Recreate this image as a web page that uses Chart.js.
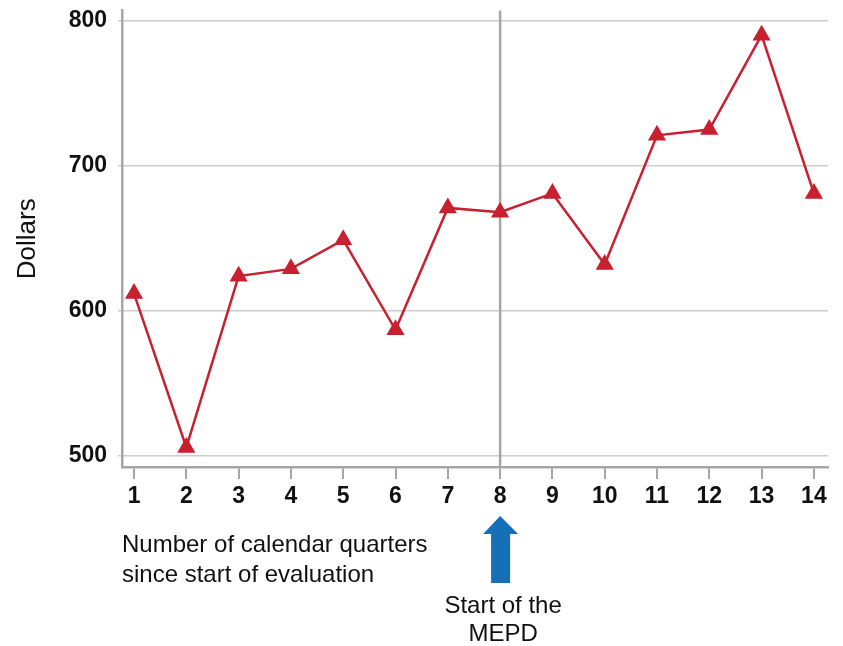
<!DOCTYPE html>
<html>
<head>
<meta charset="utf-8">
<script src="https://cdn.jsdelivr.net/npm/chart.js@4"></script>
<style>
  html, body { margin: 0; padding: 0; background: #fff; }
  #wrap { width: 843px; height: 646px; }
</style>
</head>
<body>
<div id="wrap"><canvas id="myChart" width="843" height="646"></canvas></div>
<script>
const quarters = [1, 2, 3, 4, 5, 6, 7, 8, 9, 10, 11, 12, 13, 14];
const dollars = [612, 506, 624, 629, 649, 587, 671, 668, 681, 632, 721, 725, 790, 681];
const yTicks = [500, 600, 700, 800];
const mepdStart = 8;
const xTitleLines = ["Number of calendar quarters", "since start of evaluation"];
const mepdLines = ["Start of the", "MEPD"];

const font = "'Liberation Sans', Arial, sans-serif";

// vertical marker line + arrow and notes under the axis
const extras = {
  id: "extras",
  beforeDatasetsDraw(chart) {
    const { ctx, chartArea, scales } = chart;
    const x = scales.x.getPixelForValue(mepdStart);
    ctx.save();
    ctx.strokeStyle = "#a6a6a6";
    ctx.lineWidth = 2.5;
    ctx.beginPath();
    ctx.moveTo(x, chartArea.top);
    ctx.lineTo(x, chartArea.bottom);
    ctx.stroke();
    ctx.restore();
  },
  afterDraw(chart) {
    const { ctx, scales } = chart;
    const x = scales.x.getPixelForValue(mepdStart);
    ctx.save();
    // arrow
    ctx.fillStyle = "#1570b8";
    ctx.beginPath();
    ctx.moveTo(x, 516);
    ctx.lineTo(x + 18, 534);
    ctx.lineTo(x + 10, 534);
    ctx.lineTo(x + 10, 583);
    ctx.lineTo(x - 9, 583);
    ctx.lineTo(x - 9, 534);
    ctx.lineTo(x - 17, 534);
    ctx.closePath();
    ctx.fill();

    ctx.fillStyle = "#111";
    ctx.font = "24px " + font;
    ctx.textBaseline = "middle";
    ctx.textAlign = "left";
    ctx.fillText(xTitleLines[0], 122, 545);
    ctx.fillText(xTitleLines[1], 122, 575);
    ctx.textAlign = "center";
    ctx.fillText(mepdLines[0], x + 3, 606);
    ctx.fillText(mepdLines[1], x + 3, 634);
    ctx.restore();
  },
};

const ctx = document.getElementById("myChart").getContext("2d");
new Chart(ctx, {
  type: "line",
  data: {
    datasets: [
      {
        data: quarters.map((q, i) => ({ x: q, y: dollars[i] })),
        borderColor: "#c8202f",
        backgroundColor: "#c8202f",
        borderWidth: 2.5,
        pointStyle: "triangle",
        pointRadius: 8,
        pointHoverRadius: 8,
        tension: 0,
      },
    ],
  },
  options: {
    responsive: false,
    animation: false,
    layout: { padding: { top: 8, right: 15, left: 0, bottom: 0 } },
    plugins: { legend: { display: false }, tooltip: { enabled: false } },
    scales: {
      x: {
        type: "linear",
        min: 0.77,
        max: 14.27,
        afterBuildTicks: (scale) => {
          scale.ticks = quarters.map((v) => ({ value: v }));
        },
        afterFit: (scale) => {
          scale.height = 179;
        },
        grid: {
          drawOnChartArea: false,
          color: "#a6a6a6",
          lineWidth: 2,
          tickLength: 12,
        },
        border: { color: "#a6a6a6", width: 2.5 },
        ticks: {
          color: "#111",
          padding: 4,
          maxRotation: 0,
          autoSkip: false,
          font: { family: font, size: 23, weight: "bold" },
        },
      },
      y: {
        min: 492.5,
        max: 807,
        afterBuildTicks: (scale) => {
          scale.ticks = yTicks.map((v) => ({ value: v }));
        },
        afterFit: (scale) => {
          scale.width = 122;
          scale.paddingTop = 0;
          scale.paddingBottom = 0;
        },
        grid: { color: "#cccccc", lineWidth: 1.5, tickLength: 4 },
        border: { color: "#a6a6a6", width: 2.5 },
        title: {
          display: true,
          text: "Dollars",
          color: "#111",
          padding: { top: 12, bottom: 0 },
          font: { family: font, size: 26 },
        },
        ticks: {
          color: "#111",
          padding: 11,
          font: { family: font, size: 23, weight: "bold" },
        },
      },
    },
  },
  plugins: [extras],
});
</script>
</body>
</html>
